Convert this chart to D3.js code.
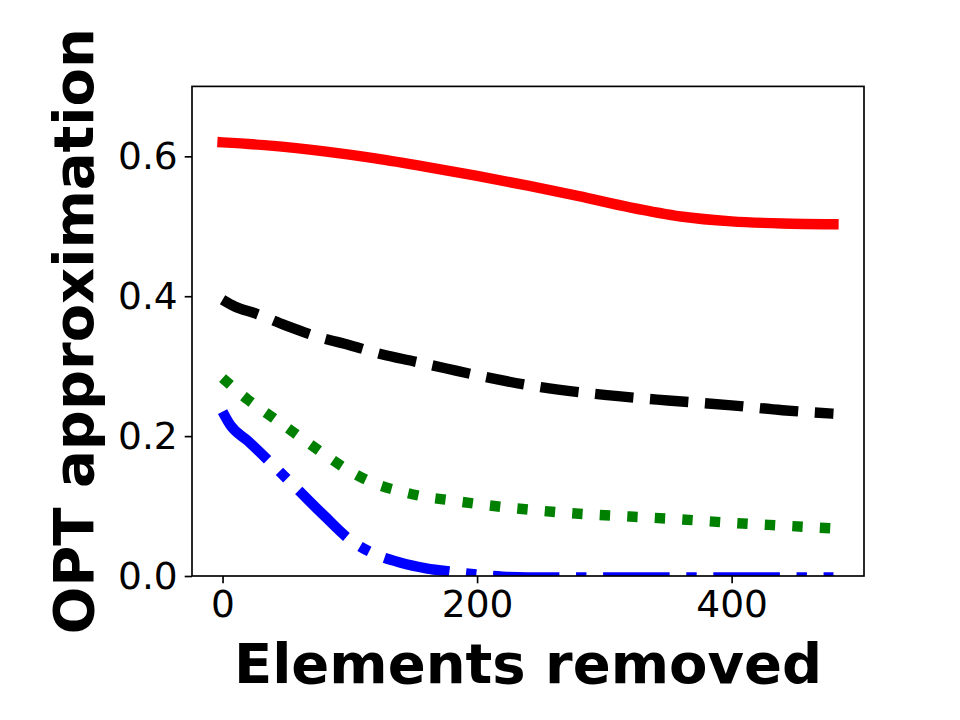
<!DOCTYPE html>
<html>
<head>
<meta charset="utf-8">
<script src="https://cdn.jsdelivr.net/npm/d3@7"></script>
<style>
  body { margin: 0; background: #fff; }
  svg { font-family: "DejaVu Sans", sans-serif; }
</style>
</head>
<body>
<svg id="chart" width="960" height="720"></svg>
<script>
// Data
const redX = [0, 40, 80, 120, 160, 200, 240, 280, 320, 360, 400, 440, 480];
const redY = [0.620, 0.615, 0.607, 0.597, 0.585, 0.572, 0.558, 0.543, 0.527, 0.514, 0.507, 0.504, 0.503];

const blackX = [0, 10, 25, 50, 75, 100, 125, 150, 175, 200, 250, 300, 350, 400, 440, 480];
const blackY = [0.395, 0.385, 0.376, 0.358, 0.342, 0.330, 0.317, 0.307, 0.297, 0.287, 0.270, 0.259, 0.251, 0.244, 0.237, 0.232];

const greenX = [0, 20, 40, 60, 80, 100, 120, 140, 160, 180, 200, 240, 280, 320, 360, 400, 440, 480];
const greenY = [0.283, 0.252, 0.226, 0.200, 0.174, 0.150, 0.132, 0.121, 0.113, 0.108, 0.103, 0.095, 0.089, 0.085, 0.081, 0.076, 0.072, 0.068];

const blueX = [0, 6, 20, 40, 60, 80, 100, 120, 140, 160, 180, 200, 220, 240, 300, 360, 420, 480];
const blueY = [0.235, 0.216, 0.193, 0.158, 0.122, 0.086, 0.052, 0.031, 0.019, 0.011, 0.006, 0.002, -0.001, -0.002, -0.002, -0.002, -0.002, -0.002];

const xTicks = [0, 200, 400];
const yTicks = [0.0, 0.2, 0.4, 0.6];

const svg = d3.select('#chart');

// axes box (matplotlib style subplot)
const plotLeft = 192, plotRight = 864, plotTop = 86.4, plotBottom = 576;
const lw = 10.4;

const x = d3.scaleLinear().domain([-24, 504]).range([plotLeft, plotRight]);
const y = d3.scaleLinear().domain([0, 0.7]).range([plotBottom, plotTop]);

svg.append('defs').append('clipPath').attr('id', 'plot-clip')
  .append('rect')
  .attr('x', plotLeft).attr('y', plotTop)
  .attr('width', plotRight - plotLeft).attr('height', plotBottom - plotTop);

const line = d3.line()
  .x(d => x(d[0]))
  .y(d => y(d[1]))
  .curve(d3.curveMonotoneX);

const series = [
  { xs: redX, ys: redY, color: '#ff0000', dash: null, cap: 'square' },
  { xs: blackX, ys: blackY, color: '#000000', dash: [3.7 * lw, 1.6 * lw], cap: 'butt' },
  { xs: greenX, ys: greenY, color: '#008000', dash: [1 * lw, 1.65 * lw], cap: 'butt' },
  { xs: blueX, ys: blueY, color: '#0000ff', dash: [6.4 * lw, 1.6 * lw, 1 * lw, 1.6 * lw], cap: 'butt' }
];

const plot = svg.append('g').attr('clip-path', 'url(#plot-clip)');
series.forEach(s => {
  plot.append('path')
    .datum(s.xs.map((v, i) => [v, s.ys[i]]))
    .attr('fill', 'none')
    .attr('stroke', s.color)
    .attr('stroke-width', lw)
    .attr('stroke-linecap', s.cap)
    .attr('stroke-linejoin', 'round')
    .attr('stroke-dasharray', s.dash ? s.dash.join(',') : null)
    .attr('d', line);
});

// X axis
const xAxis = svg.append('g')
  .attr('transform', `translate(0,${plotBottom})`)
  .call(d3.axisBottom(x).tickValues(xTicks).tickSize(7.3).tickPadding(7).tickFormat(d3.format('d')));

// Y axis
const yAxis = svg.append('g')
  .attr('transform', `translate(${plotLeft},0)`)
  .call(d3.axisLeft(y).tickValues(yTicks).tickSize(7.3).tickPadding(7).tickFormat(d3.format('.1f')));

[xAxis, yAxis].forEach(g => {
  g.select('.domain').remove();
  g.selectAll('.tick line').attr('stroke', '#000').attr('stroke-width', 1.67);
  g.selectAll('.tick text')
    .attr('fill', '#000')
    .attr('font-size', '37.5px')
    .attr('font-family', '"DejaVu Sans", sans-serif');
});

// frame
svg.append('rect')
  .attr('x', plotLeft).attr('y', plotTop)
  .attr('width', plotRight - plotLeft).attr('height', plotBottom - plotTop)
  .attr('fill', 'none')
  .attr('stroke', '#000')
  .attr('stroke-width', 1.67);

// axis labels
svg.append('text')
  .attr('x', (plotLeft + plotRight) / 2)
  .attr('y', 683)
  .attr('text-anchor', 'middle')
  .attr('font-size', '56px')
  .attr('font-weight', 'bold')
  .text('Elements removed');

svg.append('text')
  .attr('transform', `translate(93,${(plotTop + plotBottom) / 2}) rotate(-90)`)
  .attr('text-anchor', 'middle')
  .attr('font-size', '56px')
  .attr('font-weight', 'bold')
  .text('OPT approximation');
</script>
</body>
</html>
